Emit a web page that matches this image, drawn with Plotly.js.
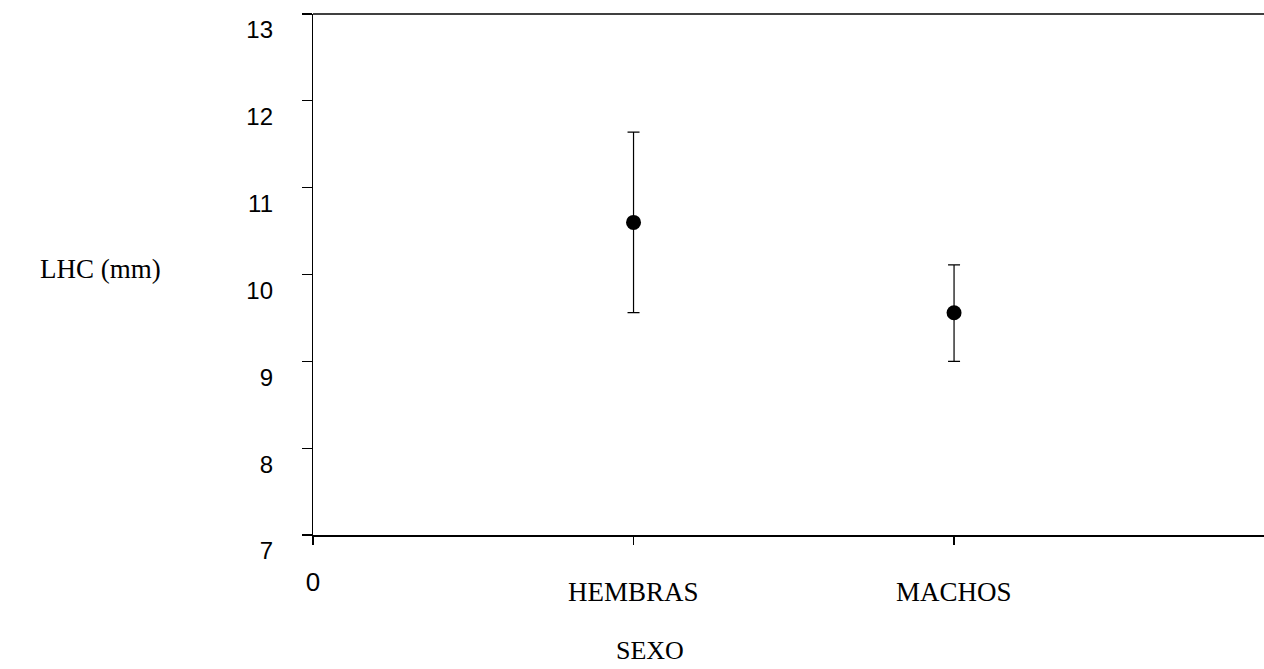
<!DOCTYPE html>
<html>
<head>
<meta charset="utf-8">
<script src="https://cdn.plot.ly/plotly-3.0.1.min.js"></script>
<style>html,body{margin:0;padding:0;background:#fff;}#chart{width:1264px;height:669px;}</style>
</head>
<body>
<div id="chart"></div>
<script>
const categories = ['HEMBRAS', 'MACHOS'];
const catPositions = [1, 2];
const means = [10.60, 9.56];
const errPlus = [1.04, 0.55];
const errMinus = [1.04, 0.56];
const yTicks = [7, 8, 9, 10, 11, 12, 13];
const xTickVals = [0, 1, 2];
const xTickText = ['0', '', ''];
const yTitle = 'LHC (mm)';
const xTitle = 'SEXO';

const trace = {
  x: catPositions,
  y: means,
  type: 'scatter',
  mode: 'markers',
  marker: {color: '#000', size: 15, symbol: 'circle'},
  error_y: {
    type: 'data', symmetric: false,
    array: errPlus, arrayminus: errMinus,
    color: '#000', thickness: 1.2, width: 6
  },
  hoverinfo: 'x+y'
};

const serif = 'Liberation Serif, Times New Roman, serif';
const annotations = categories.map((c, i) => ({
  x: catPositions[i], xref: 'x', y: 0, yref: 'paper',
  text: c, showarrow: false, yanchor: 'top', yshift: -40,
  font: {family: serif, size: 27, color: '#000'}
}));
annotations.push({
  x: (100 - 313) / 951, xref: 'paper', y: 10.06, yref: 'y',
  text: yTitle, showarrow: false, xanchor: 'center', yanchor: 'middle',
  font: {family: serif, size: 27, color: '#000'}
});
annotations.push({
  x: 1.05, xref: 'x', y: 0, yref: 'paper',
  text: xTitle, showarrow: false, xanchor: 'center', yanchor: 'bottom', yshift: -132,
  font: {family: serif, size: 26, color: '#000'}
});

const layout = {
  width: 1264, height: 669,
  margin: {l: 313, r: 0, t: 14, b: 134, pad: 0},
  paper_bgcolor: '#fff', plot_bgcolor: '#fff',
  showlegend: false,
  xaxis: {
    range: [0, 2.967], showgrid: false, zeroline: false,
    showline: true, linecolor: '#000', linewidth: 1.5,
    ticks: 'outside', ticklen: 8, tickwidth: 1.2, tickcolor: '#000',
    tickvals: xTickVals, ticktext: xTickText,
    ticklabelstandoff: 15,
    tickfont: {family: 'Liberation Sans, Arial, sans-serif', size: 26, color: '#000'},
    fixedrange: true
  },
  yaxis: {
    range: [7, 13], showgrid: false, zeroline: false,
    showline: true, linecolor: '#000', linewidth: 1.2,
    ticks: 'outside', ticklen: 10, tickwidth: 1.2, tickcolor: '#000',
    tickvals: yTicks, ticktext: yTicks.map(String),
    ticklabelshift: 16, ticklabelstandoff: 24,
    tickfont: {family: 'Liberation Sans, Arial, sans-serif', size: 24, color: '#000'},
    fixedrange: true
  },
  shapes: [{
    type: 'line', xref: 'paper', yref: 'paper', x0: 0, x1: 1, y0: 1, y1: 1,
    line: {color: '#000', width: 1.5}
  }],
  annotations: annotations
};

Plotly.newPlot('chart', [trace], layout, {displayModeBar: false, staticPlot: true});
</script>
</body>
</html>
